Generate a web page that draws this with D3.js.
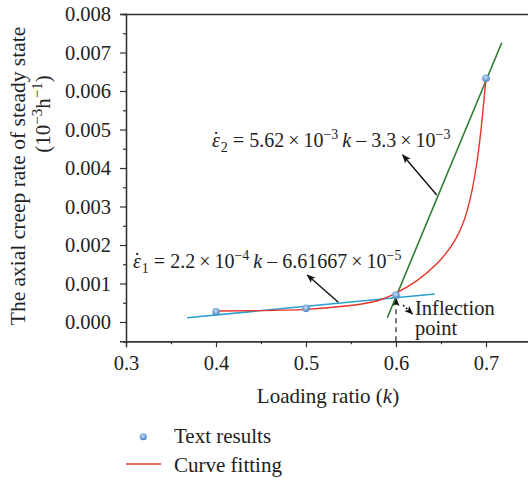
<!DOCTYPE html>
<meta charset="utf-8">
<title>Steady state creep rate</title>
<style>
  body { margin: 0; background: #fff; }
  text { font-family: "Liberation Serif", "Times New Roman", serif; fill: #222; }
</style>
<div id="viz"></div>
<script src="https://cdnjs.cloudflare.com/ajax/libs/d3/7.8.5/d3.min.js"></script>
<script>

var width = 528;
var height = 481;

// test results
var loadK = [0.4, 0.5, 0.6, 0.7];
var rate = [0.000268, 0.000355, 0.0007, 0.00633];

// red fitting curve
var curveK = [0.4, 0.45, 0.5, 0.55, 0.58, 0.6, 0.623, 0.645, 0.667, 0.68, 0.69, 0.696, 0.7];
var curveV = [0.000285, 0.000295, 0.000315, 0.00042, 0.00053, 0.00074, 0.00105, 0.00147, 0.0021, 0.00285, 0.00405, 0.0053, 0.00633];

// the two straight fits (end points)
var line1K = [0.368, 0.643];
var line1V = [0.000112, 0.000727];
var line2K = [0.5903, 0.7175];
var line2V = [0.000112, 0.007255];

var xTicks = [0.3, 0.4, 0.5, 0.6, 0.7];
var xMinor = [0.35, 0.45, 0.55, 0.65, 0.75];
var yTicks = [0, 0.001, 0.002, 0.003, 0.004, 0.005, 0.006, 0.007, 0.008];
var yMinor = [-0.0005, 0.0005, 0.0015, 0.0025, 0.0035, 0.0045, 0.0055, 0.0065, 0.0075];

var inflectK = 0.6;

var x = d3.scaleLinear().domain([0.3, 0.75]).range([126, 531]);
var y = d3.scaleLinear().domain([-0.0005, 0.008]).range([341.25, 14]);

var svg = d3.select("#viz").append("svg")
  .attr("width", width)
  .attr("height", height);

var defs = svg.append("defs");
var grad = defs.append("radialGradient").attr("id", "dot")
  .attr("cx", "45%").attr("cy", "40%").attr("r", "60%");
grad.append("stop").attr("offset", "0%").attr("stop-color", "#cfe0f5");
grad.append("stop").attr("offset", "100%").attr("stop-color", "#3f7dc4");

defs.append("marker")
  .attr("id", "arr")
  .attr("viewBox", "0 0 10 10")
  .attr("refX", 9).attr("refY", 5)
  .attr("markerWidth", 9).attr("markerHeight", 9)
  .attr("markerUnits", "userSpaceOnUse")
  .attr("orient", "auto")
  .append("path")
  .attr("d", "M0,1 L10,5 L0,9 L2.5,5 z")
  .attr("fill", "#111");

// axes
function styleAxis(g) {
  g.attr("font-family", null).attr("font-size", null);
  g.select(".domain").attr("stroke", "#333").attr("stroke-width", 1.3);
  g.selectAll(".tick line").attr("stroke", "#333").attr("stroke-width", 1.2);
  g.selectAll(".tick text").attr("font-size", 20.5).attr("fill", "#222");
}

svg.append("g").attr("transform", "translate(0,341.25)")
  .call(d3.axisBottom(x).tickValues(xTicks).tickSize(6).tickPadding(8).tickFormat(d3.format(".1f")))
  .call(styleAxis);
svg.append("g").attr("transform", "translate(0,341.25)")
  .call(d3.axisBottom(x).tickValues(xMinor).tickSize(3).tickFormat(""))
  .call(styleAxis);

svg.append("g").attr("transform", "translate(126,0)")
  .call(d3.axisLeft(y).tickValues(yTicks).tickSize(6).tickPadding(9).tickFormat(d3.format(".3f")))
  .call(styleAxis);
svg.append("g").attr("transform", "translate(126,0)")
  .call(d3.axisLeft(y).tickValues(yMinor).tickSize(3).tickFormat(""))
  .call(styleAxis);

// top frame line
svg.append("g").attr("transform", "translate(0,14)")
  .call(d3.axisTop(x).tickValues([]).tickSizeOuter(0))
  .call(styleAxis);

// axis titles
svg.append("text")
  .attr("x", 328).attr("y", 403)
  .attr("text-anchor", "middle").attr("font-size", 21)
  .call(t => {
    t.append("tspan").text("Loading ratio (");
    t.append("tspan").attr("font-style", "italic").text("k");
    t.append("tspan").text(")");
  });

svg.append("text")
  .attr("transform", "translate(25,176) rotate(-90)")
  .attr("text-anchor", "middle").attr("font-size", 21.5)
  .text("The axial creep rate of steady state");

svg.append("text")
  .attr("transform", "translate(50,114) rotate(-90)")
  .attr("text-anchor", "middle").attr("font-size", 21)
  .call(t => {
    t.append("tspan").text("(10");
    t.append("tspan").attr("font-size", 15).attr("dy", -8).text("\u22123");
    t.append("tspan").attr("dy", 8).text("h");
    t.append("tspan").attr("font-size", 15).attr("dy", -8).text("\u22121");
    t.append("tspan").attr("dy", 8).text(")");
  });

// dashed marker for the inflection point
svg.append("line")
  .attr("x1", x(inflectK)).attr("x2", x(inflectK))
  .attr("y1", y(-0.0005)).attr("y2", y(0.0007) + 3)
  .attr("stroke", "#222").attr("stroke-width", 1.2)
  .attr("stroke-dasharray", "5,4")
  .attr("marker-end", "url(#arr)");

var line = d3.line().x(d => x(d[0])).y(d => y(d[1]));

// fits
svg.append("path")
  .attr("d", line(d3.zip(line1K, line1V)))
  .attr("fill", "none").attr("stroke", "#2a9fd0").attr("stroke-width", 1.6);

svg.append("path")
  .attr("d", line(d3.zip(line2K, line2V)))
  .attr("fill", "none").attr("stroke", "#2f7d34").attr("stroke-width", 1.6);

svg.append("path")
  .attr("d", line.curve(d3.curveBasis)(d3.zip(curveK, curveV)))
  .attr("fill", "none").attr("stroke", "#e8342a").attr("stroke-width", 1.4);

// test points
svg.append("g").selectAll("circle")
  .data(d3.zip(loadK, rate))
  .join("circle")
  .attr("cx", d => x(d[0]))
  .attr("cy", d => y(d[1]))
  .attr("r", 3.8)
  .attr("fill", "url(#dot)");

// equations
function epsLabel(t, sub, parts) {
  t.append("tspan").attr("font-style", "italic").text("\u03B5");
  t.append("tspan").attr("dx", -7.2).attr("dy", -1).text("\u02D9");
  t.append("tspan").attr("font-size", 14).attr("dx", 1.5).attr("dy", 6).text(sub);
  t.append("tspan").attr("dy", -5).text(" = ");
  parts.forEach(p => {
    if (p.sup) t.append("tspan").attr("font-size", 14).attr("dy", -8).text(p.sup);
    if (p.text) t.append("tspan").attr("dy", p.after ? 8 : 0).attr("font-style", p.it ? "italic" : null).text(p.text);
  });
}

svg.append("text")
  .attr("x", 212).attr("y", 146.5).attr("font-size", 20)
  .call(t => epsLabel(t, "2", [
    {text: "5.62\u2009\u00D7\u200910"}, {sup: "\u22123"},
    {text: "\u2009k", it: true, after: true}, {text: " \u2013 3.3\u2009\u00D7\u200910"}, {sup: "\u22123"}
  ]));

svg.append("text")
  .attr("x", 133).attr("y", 268).attr("font-size", 20)
  .call(t => epsLabel(t, "1", [
    {text: "2.2\u2009\u00D7\u200910"}, {sup: "\u22124"},
    {text: "\u2009k", it: true, after: true}, {text: " \u2013 6.61667\u2009\u00D7\u200910"}, {sup: "\u22125"}
  ]));

// pointer arrows
svg.append("line")
  .attr("x1", 338.3).attr("y1", 302.3).attr("x2", 307.3).attr("y2", 275)
  .attr("stroke", "#111").attr("stroke-width", 1.4).attr("marker-end", "url(#arr)");
svg.append("line")
  .attr("x1", 436.7).attr("y1", 195).attr("x2", 402.7).attr("y2", 155)
  .attr("stroke", "#111").attr("stroke-width", 1.4).attr("marker-end", "url(#arr)");
svg.append("line")
  .attr("x1", 403).attr("y1", 305).attr("x2", 412.5).attr("y2", 314)
  .attr("stroke", "#111").attr("stroke-width", 1.4).attr("stroke-dasharray", "2,2").attr("marker-end", "url(#arr)");

svg.append("text").attr("x", 415).attr("y", 315).attr("font-size", 20.5).text("Inflection");
svg.append("text").attr("x", 415).attr("y", 334.5).attr("font-size", 20.5).text("point");

// legend
var legend = svg.append("g");
legend.append("circle").attr("cx", 143.3).attr("cy", 436.7).attr("r", 3.5).attr("fill", "url(#dot)");
legend.append("text").attr("x", 174).attr("y", 443).attr("font-size", 21).text("Text results");
legend.append("line").attr("x1", 126).attr("x2", 161).attr("y1", 464).attr("y2", 464)
  .attr("stroke", "#e8342a").attr("stroke-width", 1.4);
legend.append("text").attr("x", 174).attr("y", 471.5).attr("font-size", 21).text("Curve fitting");

</script>
